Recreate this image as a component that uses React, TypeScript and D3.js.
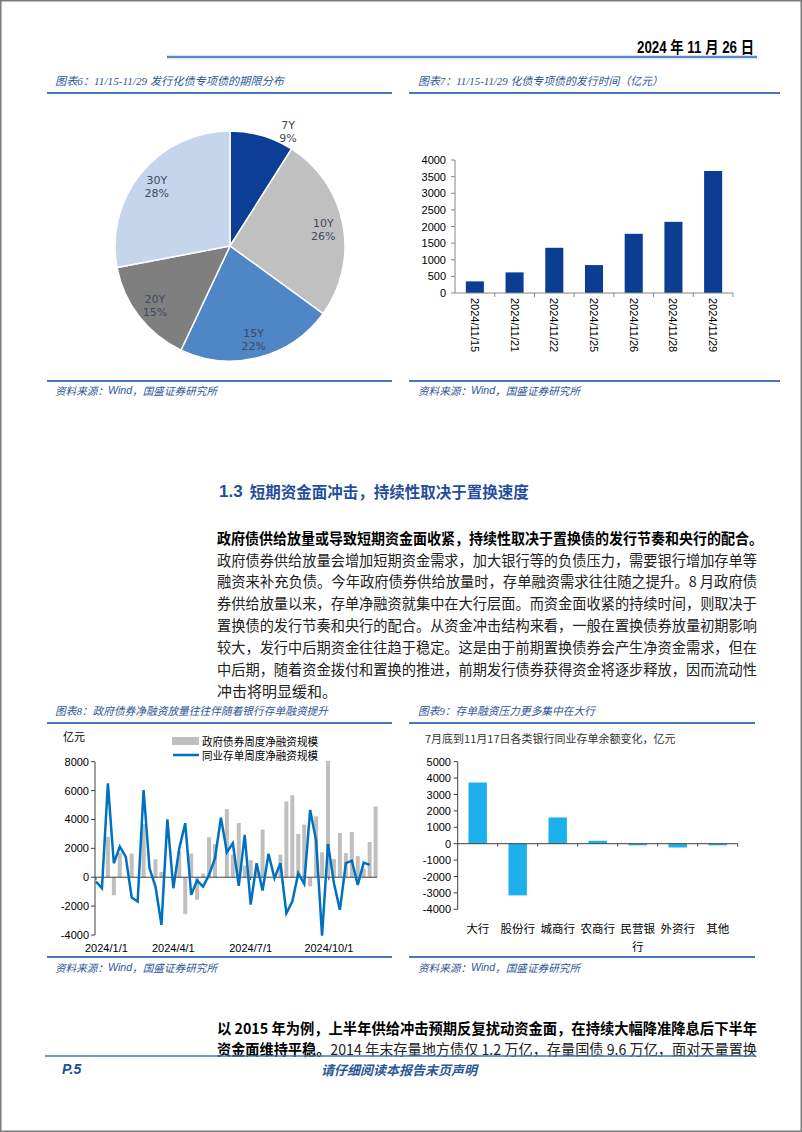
import React from 'react';
import * as d3 from 'd3';

// ---------- data ----------
const pieLabels = ['7Y', '10Y', '15Y', '20Y', '30Y'];
const pieShares = [9, 26, 22, 15, 28];
const pieColors = ['#0b3e94', '#c0c0c0', '#4f86c6', '#7f7f7f', '#c5d5ec'];

const issueDates = ['2024/11/15', '2024/11/21', '2024/11/22', '2024/11/25', '2024/11/26', '2024/11/28', '2024/11/29'];
const issueAmounts = [350, 620, 1360, 840, 1780, 2140, 3670];
const issueTicks = [0, 500, 1000, 1500, 2000, 2500, 3000, 3500, 4000];

const weekFirst = '2024-01-01';
const govNet = [0, 0, 2800, -1250, 1700, 0, 1640, 0, 3700, 0, 1250, 370, 0, 0, 1800, -2540, 1640, -1560, 250, 2770, 2300, 0, 4720, 1570, 3750, 800, 1180, 500, 3300, 0, 0, 1570, 5250, 5670, 3000, 3640, -630, 4210, 1730, 8060, 1260, 3060, 1670, 3130, 1460, 600, 2440, 4900];
const cdNet = [-300, -760, 6500, 970, 2120, 1430, -1400, -1680, 6040, 620, -650, -3300, 4010, -760, 2000, 3740, -1220, -230, -650, 160, 1300, 4130, 1730, 2350, -600, 2930, -1900, 970, -920, 1620, -70, 970, -2490, -1680, 280, -460, 4660, 2540, -4040, 2310, -420, -2260, 970, 1150, -530, 1010, 850, null];
const weeklyTicks = [-4000, -2000, 0, 2000, 4000, 6000, 8000];
const weeklyDateTicks = ['2024-01-01', '2024-04-01', '2024-07-01', '2024-10-01'];

const bankTypes = ['大行', '股份行', '城商行', '农商行', '民营银行', '外资行', '其他'];
const cdChange = [3730, -3150, 1600, 180, -100, -230, -100];
const bankTicks = [-4000, -3000, -2000, -1000, 0, 1000, 2000, 3000, 4000, 5000];

const paraLines = [
  '政府债券供给放量会增加短期资金需求，加大银行等的负债压力，需要银行增加存单等',
  '融资来补充负债。今年政府债券供给放量时，存单融资需求往往随之提升。8 月政府债',
  '券供给放量以来，存单净融资就集中在大行层面。而资金面收紧的持续时间，则取决于',
  '置换债的发行节奏和央行的配合。从资金冲击结构来看，一般在置换债券放量初期影响',
  '较大，发行中后期资金往往趋于稳定。这是由于前期置换债券会产生净资金需求，但在',
  '中后期，随着资金拨付和置换的推进，前期发行债券获得资金将逐步释放，因而流动性',
];
const paraLast = '冲击将明显缓和。';

const BLUE_T = '#2c5699';
const LINE_B = '#4677b5';
const CJK = '"Noto Sans CJK SC", sans-serif';
const ARIAL = '"Liberation Sans", Arial, "Noto Sans CJK SC", sans-serif';
const SERIF = '"Liberation Serif", "Noto Sans CJK SC", serif';

function Title({ x, y, text, w }: { x: number; y: number; text: string; w: number }) {
  return (
    <text x={x} y={y} fontFamily={SERIF} fontStyle="italic" fontSize={11} fill={BLUE_T} dominantBaseline="central" textLength={w} lengthAdjust="spacingAndGlyphs">
      {text}
    </text>
  );
}
function Source({ x, y }: { x: number; y: number }) {
  return (
    <text x={x} y={y} fontFamily={CJK} fontStyle="italic" fontSize={10.5} fill={BLUE_T} dominantBaseline="central" textLength={162} lengthAdjust="spacingAndGlyphs">
      资料来源：<tspan fontFamily={ARIAL}>Wind</tspan>，国盛证券研究所
    </text>
  );
}
function HLine({ x1, x2, y, w = 2 }: { x1: number; x2: number; y: number; w?: number }) {
  return <line x1={x1} x2={x2} y1={y} y2={y} stroke={LINE_B} strokeWidth={w} />;
}

export default function App() {
  // ---- Pie ----
  const pc = { x: 230, y: 246 };
  const R = 115;
  const pieGen = d3.pie<number>().sort(null).value((d) => d);
  const arcs = pieGen(pieShares);
  const arcGen = d3.arc<d3.PieArcDatum<number>>().innerRadius(0).outerRadius(R);
  const labelPos = (a: d3.PieArcDatum<number>, i: number) => {
    const mid = (a.startAngle + a.endAngle) / 2 + (i === 0 ? 0.18 : 0);
    const r = i === 0 ? 130 : 95;
    return [Math.sin(mid) * r, -Math.cos(mid) * r];
  };

  // ---- Chart 7 ----
  const x7 = d3.scaleBand<string>().domain(issueDates).range([455, 733]).paddingInner(0.545).paddingOuter(0.2725);
  const y7 = d3.scaleLinear().domain([0, 4000]).range([293, 160]);

  // ---- Chart 8 ----
  const dates8 = govNet.map((_, i) => d3.timeDay.offset(new Date(weekFirst + 'T00:00:00'), i * 7));
  const x8 = d3.scaleTime().domain([dates8[0], dates8[dates8.length - 1]]).range([96, 375.6]);
  const y8 = d3.scaleLinear().domain([-4000, 8000]).range([935, 761.7]);
  const line8 = d3
    .line<number | null>()
    .defined((d) => d !== null)
    .x((_, i) => x8(dates8[i]))
    .y((d) => y8(d as number));

  // ---- Chart 9 ----
  const x9 = d3.scaleBand<string>().domain(bankTypes).range([457.7, 737.7]).paddingInner(0.54).paddingOuter(0.27);
  const y9 = d3.scaleLinear().domain([-4000, 5000]).range([909.3, 761.7]);

  const wrap3 = (s: string) => {
    const out: string[] = [];
    for (let i = 0; i < s.length; i += 3) out.push(s.slice(i, i + 3));
    return out;
  };

  return (
    <svg width={802} height={1132} style={{ position: 'absolute', left: 0, top: 0, background: '#fff' }}>
      <rect x={0.75} y={0.75} width={800.5} height={1130.5} fill="#fff" stroke="#7a7a7a" strokeWidth={1.5} />

      {/* header */}
      <text x={637} y={53} fontFamily={ARIAL} fontWeight="bold" fontSize={16} textLength={117} lengthAdjust="spacingAndGlyphs">
        2024 年 11 月 26 日
      </text>
      <line x1={167} x2={757} y1={57} y2={57} stroke="#5a8ac2" strokeWidth={2.5} />

      {/* chart titles */}
      <Title x={55} y={81} w={229} text="图表6：11/15-11/29 发行化债专项债的期限分布" />
      <HLine x1={47} x2={392} y={93} />
      <Title x={418} y={81} w={245} text="图表7：11/15-11/29 化债专项债的发行时间（亿元）" />
      <HLine x1={409} x2={780} y={93} />

      {/* pie */}
      <g transform={`translate(${pc.x},${pc.y})`}>
        {arcs.map((a, i) => (
          <path key={i} d={arcGen(a) as string} fill={pieColors[i]} stroke="#fff" strokeWidth={1.5} />
        ))}
        {arcs.map((a, i) => {
          const [lx, ly] = labelPos(a, i);
          return (
            <text key={'l' + i} x={lx} y={ly} textAnchor="middle" fontFamily='"DejaVu Sans", Verdana, sans-serif' fontSize={11} fill="#3e4963">
              <tspan x={lx} dy={-1}>{pieLabels[i]}</tspan>
              <tspan x={lx} dy={13}>{pieShares[i]}%</tspan>
            </text>
          );
        })}
      </g>

      {/* chart 7 */}
      <g>
        {issueDates.map((d, i) => (
          <rect key={d} x={x7(d)} y={y7(issueAmounts[i])} width={x7.bandwidth()} height={y7(0) - y7(issueAmounts[i])} fill="#0b3d93" />
        ))}
        <line x1={455} x2={455} y1={y7(4000)} y2={y7(0)} stroke="#868686" />
        <line x1={455} x2={733} y1={y7(0)} y2={y7(0)} stroke="#868686" />
        {issueTicks.map((t) => (
          <g key={t}>
            <line x1={451} x2={455} y1={y7(t)} y2={y7(t)} stroke="#868686" />
            <text x={446} y={y7(t)} textAnchor="end" dominantBaseline="central" fontFamily={ARIAL} fontSize={11}>
              {t}
            </text>
          </g>
        ))}
        {issueDates.map((d, i) => (
          <line key={'t' + d} x1={455 + x7.step() * (i + 1)} x2={455 + x7.step() * (i + 1)} y1={y7(0)} y2={y7(0) + 4} stroke="#868686" />
        ))}
        {issueDates.map((d) => {
          const cx = (x7(d) as number) + x7.bandwidth() / 2;
          return (
            <text key={'x' + d} transform={`translate(${cx},298) rotate(90)`} dominantBaseline="central" fontFamily={ARIAL} fontSize={11}>
              {d}
            </text>
          );
        })}
      </g>

      <HLine x1={47} x2={392} y={381} />
      <Source x={55} y={390} />
      <HLine x1={409} x2={780} y={381} />
      <Source x={418} y={390} />

      {/* section text */}
      <text x={219} y={491} dominantBaseline="central" fill="#1f4f9c" fontWeight="bold">
        <tspan fontFamily={ARIAL} fontSize={17}>1.3</tspan>
        <tspan fontFamily={CJK} fontSize={15.5} dx={7}>短期资金面冲击，持续性取决于置换速度</tspan>
      </text>
      <text x={217} y={537} dominantBaseline="central" fontFamily={CJK} fontWeight="bold" fontSize={15} textLength={546} lengthAdjust="spacingAndGlyphs">
        政府债供给放量或导致短期资金面收紧，持续性取决于置换债的发行节奏和央行的配合。
      </text>
      {paraLines.map((s, i) => (
        <text key={i} x={217} y={559 + i * 21.9} dominantBaseline="central" fontFamily={CJK} fontSize={15} fill="#222" textLength={540} lengthAdjust="spacingAndGlyphs">
          {s}
        </text>
      ))}
      <text x={217} y={559 + paraLines.length * 21.9} dominantBaseline="central" fontFamily={CJK} fontSize={15} fill="#222">
        {paraLast}
      </text>

      {/* chart 8 / 9 titles */}
      <Title x={55} y={711} w={273} text="图表8：政府债券净融资放量往往伴随着银行存单融资提升" />
      <HLine x1={47} x2={392} y={723} />
      <Title x={418} y={711} w={177} text="图表9：存单融资压力更多集中在大行" />
      <HLine x1={409} x2={755} y={723} />

      {/* chart 8 */}
      <g>
        <text x={63} y={736} dominantBaseline="central" fontFamily={CJK} fontSize={11}>亿元</text>
        <rect x={172} y={737} width={27} height={8} fill="#bfbfbf" />
        <text x={202} y={741} dominantBaseline="central" fontFamily={CJK} fontSize={11} textLength={116} lengthAdjust="spacingAndGlyphs">
          政府债券周度净融资规模
        </text>
        <line x1={173} x2={199} y1={755} y2={755} stroke="#0070c0" strokeWidth={2.5} />
        <text x={202} y={755} dominantBaseline="central" fontFamily={CJK} fontSize={11} textLength={116} lengthAdjust="spacingAndGlyphs">
          同业存单周度净融资规模
        </text>

        {govNet.map((v, i) => (
          <rect key={i} x={x8(dates8[i]) - 2} y={Math.min(y8(v), y8(0))} width={4} height={Math.abs(y8(v) - y8(0))} fill="#bfbfbf" />
        ))}
        <line x1={95} x2={95} y1={y8(8000)} y2={y8(-4000)} stroke="#404040" />
        {weeklyTicks.map((t) => (
          <g key={t}>
            <line x1={91} x2={95} y1={y8(t)} y2={y8(t)} stroke="#404040" />
            <text x={89} y={y8(t)} textAnchor="end" dominantBaseline="central" fontFamily={ARIAL} fontSize={11}>
              {t}
            </text>
          </g>
        ))}
        <line x1={95} x2={377} y1={y8(0)} y2={y8(0)} stroke="#404040" />
        {weeklyDateTicks.map((d, i) => {
          const dt = new Date(d + 'T00:00:00');
          const xx = x8(dt);
          const lbl = d3.timeFormat('%Y/%-m/%-d')(dt);
          return (
            <g key={d}>
              <line x1={xx} x2={xx} y1={y8(0)} y2={y8(0) + 3} stroke="#404040" />
              <text x={i === 0 ? 85 : xx} y={948} textAnchor={i === 0 ? 'start' : 'middle'} dominantBaseline="central" fontFamily={ARIAL} fontSize={11}>
                {lbl}
              </text>
            </g>
          );
        })}
        <path d={line8(cdNet) as string} fill="none" stroke="#0070c0" strokeWidth={2.5} strokeLinejoin="miter" />
      </g>

      {/* chart 9 */}
      <g>
        <text x={425} y={738} dominantBaseline="central" fontFamily={CJK} fontSize={11} fill="#333">
          7月底到11月17日各类银行同业存单余额变化，亿元
        </text>
        {bankTypes.map((b, i) => (
          <rect
            key={b}
            x={x9(b)}
            y={Math.min(y9(cdChange[i]), y9(0))}
            width={x9.bandwidth()}
            height={Math.abs(y9(cdChange[i]) - y9(0))}
            fill="#1eb0ec"
          />
        ))}
        <line x1={457.7} x2={457.7} y1={y9(5000)} y2={y9(-4000)} stroke="#404040" />
        {bankTicks.map((t) => (
          <g key={t}>
            <line x1={453.7} x2={457.7} y1={y9(t)} y2={y9(t)} stroke="#404040" />
            <text x={451} y={y9(t)} textAnchor="end" dominantBaseline="central" fontFamily={ARIAL} fontSize={11}>
              {t}
            </text>
          </g>
        ))}
        <line x1={457.7} x2={737.7} y1={y9(0)} y2={y9(0)} stroke="#404040" />
        {bankTypes.map((b, i) => (
          <line key={'t' + b} x1={457.7 + x9.step() * (i + 1)} x2={457.7 + x9.step() * (i + 1)} y1={y9(0)} y2={y9(0) + 3} stroke="#404040" />
        ))}
        {bankTypes.map((b) => {
          const cx = (x9(b) as number) + x9.bandwidth() / 2;
          return wrap3(b).map((part, j) => (
            <text key={b + j} x={cx} y={928 + j * 18} textAnchor="middle" dominantBaseline="central" fontFamily={CJK} fontSize={11.5}>
              {part}
            </text>
          ));
        })}
      </g>

      <HLine x1={47} x2={392} y={957} />
      <Source x={55} y={967} />
      <HLine x1={409} x2={755} y={957} />
      <Source x={418} y={967} />

      {/* bottom paragraph */}
      <text x={217} y={1027} dominantBaseline="central" fontFamily={CJK} fontWeight="bold" fontSize={15} textLength={540} lengthAdjust="spacingAndGlyphs">
        以 2015 年为例，上半年供给冲击预期反复扰动资金面，在持续大幅降准降息后下半年
      </text>
      <text x={217} y={1048} dominantBaseline="central" fontFamily={CJK} fontSize={15} fill="#222" textLength={540} lengthAdjust="spacingAndGlyphs">
        <tspan fontWeight="bold" fill="#000">资金面维持平稳。</tspan>2014 年末存量地方债仅 1.2 万亿，存量国债 9.6 万亿，面对天量置换
      </text>
      <line x1={45} x2={755} y1={1056} y2={1056} stroke={LINE_B} strokeWidth={1.5} />
      <text x={62} y={1069} dominantBaseline="central" fontFamily={ARIAL} fontWeight="bold" fontStyle="italic" fontSize={14} fill="#1f4f9c">
        P.5
      </text>
      <text x={399} y={1069} textAnchor="middle" dominantBaseline="central" fontFamily={CJK} fontWeight="bold" fontStyle="italic" fontSize={13} fill="#2c5699">
        请仔细阅读本报告末页声明
      </text>
    </svg>
  );
}
